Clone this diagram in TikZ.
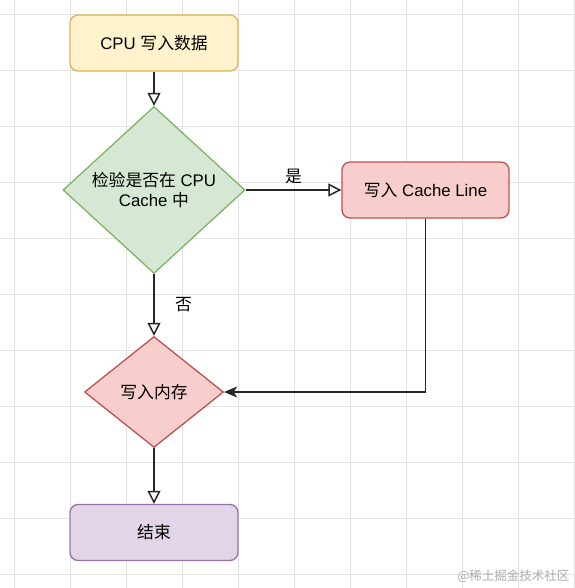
\documentclass[tikz,border=0pt]{standalone}
\usepackage{fontspec}
\setmainfont{Liberation Sans}
\newfontfamily\cjk{Noto Sans CJK SC}
\usetikzlibrary{positioning, arrows.meta, shapes.geometric}

\definecolor{startfill}{HTML}{FFF2CC}
\definecolor{startdraw}{HTML}{D6B656}
\definecolor{checkfill}{HTML}{D5E8D4}
\definecolor{checkdraw}{HTML}{82B366}
\definecolor{writefill}{HTML}{F8CECC}
\definecolor{writedraw}{HTML}{B85450}
\definecolor{endfill}{HTML}{E1D5E7}
\definecolor{enddraw}{HTML}{9673A6}
\definecolor{linegray}{HTML}{262626}
\definecolor{gridgray}{HTML}{E2E2E2}

\begin{document}
\begin{tikzpicture}[
          x=1pt, y=-1pt,
          font=\fontsize{16.8pt}{20.8pt}\selectfont,
          box/.style={draw, line width=1.3pt, rounded corners=8pt, align=center, minimum width=168pt, minimum height=56pt, inner sep=0pt},
          start_box/.style={box, fill=startfill, draw=startdraw},
          write_box/.style={box, fill=writefill, draw=writedraw, minimum width=167pt},
          end_box/.style={box, fill=endfill, draw=enddraw},
          check_node/.style={diamond, draw, line width=1.3pt, align=center, inner sep=0pt},
          arrow/.style={-{Triangle[fill=white, length=13pt, width=13pt]}, line width=1.5pt, draw=linegray},
          back_arrow/.style={-{Stealth[length=13pt, width=11pt, inset=3.5pt]}, line width=1.5pt, draw=linegray},
          gridline/.style={draw=gridgray, line width=0.9pt}
      ]
          \useasboundingbox (0,0) rectangle (574,588);
          \fill[white] (0,0) rectangle (574,588);

          % Hintergrundraster
          \foreach \g in {14,70,...,574} {
              \draw[gridline] (\g,0) -- (\g,588);
              \draw[gridline] (0,\g) -- (574,\g);
          }

          % Ablauf von oben nach unten
          \node[start_box] (start) at (154, 43) {CPU {\cjk 写入数据}};
          \node[check_node, fill=checkfill, draw=checkdraw, minimum width=182pt, minimum height=167pt] (check) at (154, 190) {{\cjk 检验是否在} CPU\\Cache {\cjk 中}};
          \node[write_box] (cacheline) at (425.5, 190) {{\cjk 写入} Cache Line};
          \node[check_node, fill=writefill, draw=writedraw, minimum width=139pt, minimum height=111pt] (memory) at (154, 392) {\cjk 写入内存};
          \node[end_box] (finish) at (154, 532.5) {\cjk 结束};

          \draw[arrow] (start) -- (check);
          \draw[arrow] (check.east) -- node[above=2pt] {\cjk 是} (cacheline.west);
          \draw[arrow] (check.south) -- node[right=17pt] {\cjk 否} (memory.north);
          \draw[back_arrow] (cacheline.south) |- (memory.east);
          \draw[arrow] (memory.south) -- (finish.north);

          % Wasserzeichen
          \node[anchor=east, text=gray!65, font=\fontsize{12.5pt}{14pt}\selectfont] (mark) at (573, 576) {\cjk @稀土掘金技术社区};
      \end{tikzpicture}
\end{document}
